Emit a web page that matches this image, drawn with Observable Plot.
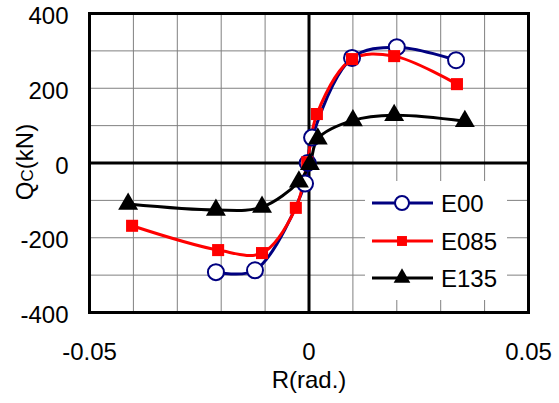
<!DOCTYPE html>
<html><head><meta charset="utf-8">
<script src="https://cdn.jsdelivr.net/npm/d3@7"></script>
<script src="https://cdn.jsdelivr.net/npm/@observablehq/plot@0.6"></script>
<style>
body{margin:0;background:#fff}
svg{font-family:"Liberation Sans",Arial,sans-serif}
</style>
</head><body><div id="chart"></div>
<script>
// ---- data ----
const seriesNames = ["E00", "E085", "E135"];
const seriesColors = ["#000080", "#ff0000", "#000000"];

const e00R = [-0.0212, -0.0123, -0.0009, -0.0003, 0.0007, 0.0098, 0.0200, 0.0335];
const e00Q = [-292, -287, -55, 0, 68, 281, 310, 275];

const e085R = [-0.0403, -0.0207, -0.0107, -0.0030, -0.0004, 0.0018, 0.0098, 0.0194, 0.0337];
const e085Q = [-168, -233, -241, -120, 2, 131, 278, 286, 211];

const e135R = [-0.0412, -0.0212, -0.0107, -0.0023, 0.0002, 0.0020, 0.0100, 0.0194, 0.0355];
const e135Q = [-110, -126, -118, -50, -3, 65, 114, 128, 112];

const xTicks = [-0.05, 0, 0.05];
const yTicks = [-400, -200, 0, 200, 400];
const xGrid = [-0.04, -0.03, -0.02, -0.01, 0.01, 0.02, 0.03, 0.04];
const yGrid = [-300, -200, -100, 100, 200, 300];

const xTitle = "R(rad.)";

// ---- build ----
const toRows = (R, Q) => R.map((r, i) => ({R: r, Q: Q[i]}));
const rows00 = toRows(e00R, e00Q);
const rows085 = toRows(e085R, e085Q);
const rows135 = toRows(e135R, e135Q);

const fmt = d => d === 0 ? "0" : String(d);

const plot = Plot.plot({
  width: 559, height: 403,
  marginLeft: 89, marginRight: 31, marginTop: 13, marginBottom: 91,
  x: {domain: [-0.05, 0.05]},
  y: {domain: [-400, 400]},
  style: {fontFamily: '"Liberation Sans", Arial, sans-serif', fontSize: "24px", color: "black", background: "white"},
  marks: [
    Plot.ruleX(xGrid, {stroke: "#808080", strokeWidth: 1}),
    Plot.ruleY(yGrid, {stroke: "#808080", strokeWidth: 1}),
    Plot.ruleX([0], {stroke: "black", strokeWidth: 3}),
    Plot.ruleY([0], {stroke: "black", strokeWidth: 3}),
    Plot.line(rows00, {x: "R", y: "Q", stroke: seriesColors[0], strokeWidth: 3, curve: "catmull-rom"}),
    Plot.line(rows085, {x: "R", y: "Q", stroke: seriesColors[1], strokeWidth: 3, curve: "catmull-rom"}),
    Plot.line(rows135, {x: "R", y: "Q", stroke: seriesColors[2], strokeWidth: 3, curve: "catmull-rom"}),
    Plot.dot(rows00, {x: "R", y: "Q", symbol: "circle", r: 8, fill: "white", stroke: seriesColors[0], strokeWidth: 2}),
    Plot.dot(rows085, {x: "R", y: "Q", symbol: "square", r: 6.8, fill: seriesColors[1], stroke: "none"}),
    Plot.dot(rows135, {x: "R", y: "Q", symbol: "triangle", r: 7.4, fill: seriesColors[2], stroke: "none"}),
    Plot.frame({stroke: "black", strokeWidth: 3}),
    Plot.axisX(xTicks, {tickSize: 0, tickPadding: 30, tickFormat: fmt, fontSize: 24, label: null}),
    Plot.axisY(yTicks, {tickSize: 0, tickPadding: 21, tickFormat: fmt, fontSize: 24, dy: 3, label: null}),
    Plot.text([xTitle], {frameAnchor: "bottom", dy: 75, fontSize: 24, fill: "black"})
  ]
});
document.getElementById("chart").appendChild(plot);

// ---- y title with subscript-style C ----
const svg = d3.select(plot);
const yt = svg.append("text")
  .attr("transform", "translate(33,162) rotate(-90)")
  .attr("text-anchor", "middle")
  .attr("font-size", 24)
  .attr("fill", "black");
yt.append("tspan").text("Q");
yt.append("tspan").attr("font-size", 17).text("C");
yt.append("tspan").text("(kN)");

// ---- legend ----
const lg = svg.append("g").attr("text-anchor", "start");
lg.append("rect").attr("x", 365).attr("y", 181).attr("width", 142).attr("height", 119).attr("fill", "white");
const rowY = [203, 241, 278];
const syms = [d3.symbolCircle, d3.symbolSquare, d3.symbolTriangle];
const symR = [7, 5.6, 6.2];
seriesNames.forEach((name, i) => {
  const y = rowY[i];
  lg.append("line").attr("x1", 372).attr("x2", 433).attr("y1", y).attr("y2", y)
    .attr("stroke", seriesColors[i]).attr("stroke-width", 3);
  const p = lg.append("path")
    .attr("d", d3.symbol(syms[i], Math.PI * symR[i] * symR[i])())
    .attr("transform", `translate(402,${y})`);
  if (i === 0) p.attr("fill", "white").attr("stroke", seriesColors[0]).attr("stroke-width", 2);
  else p.attr("fill", seriesColors[i]);
  lg.append("text").attr("x", 441).attr("y", y).attr("dy", "0.36em")
    .attr("text-anchor", "start")
    .attr("font-size", 24).attr("fill", "black").text(name);
});
</script>
</body></html>
